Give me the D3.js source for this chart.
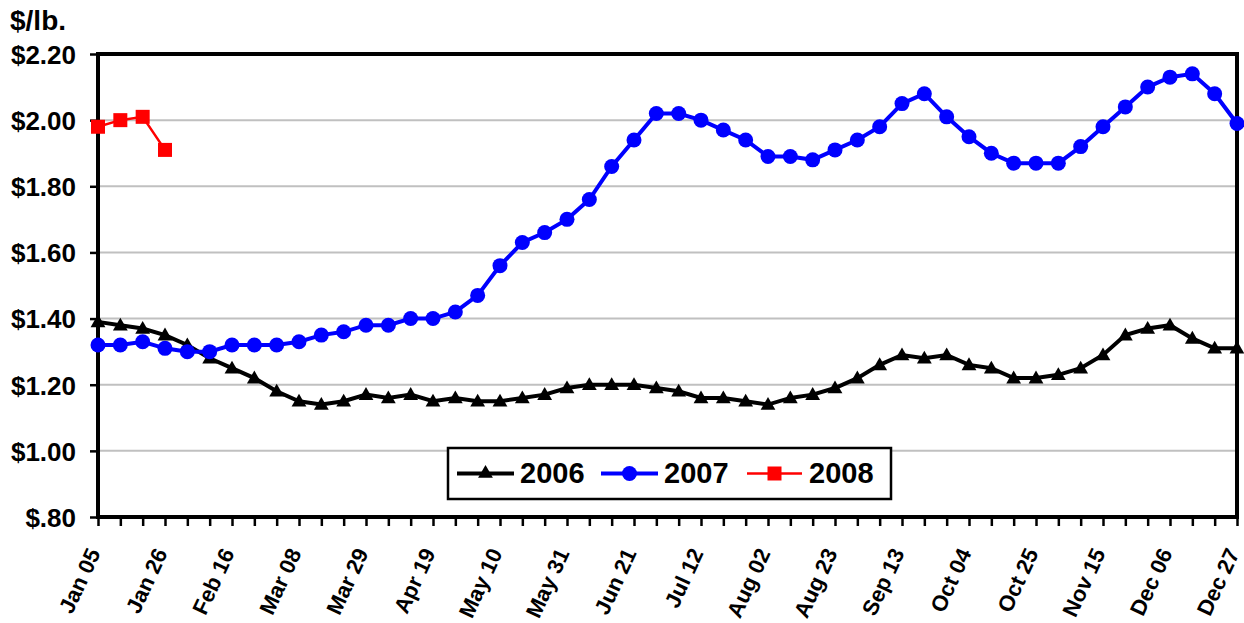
<!DOCTYPE html>
<html><head><meta charset="utf-8">
<script src="https://cdn.jsdelivr.net/npm/d3@7"></script>
<style>body{margin:0;background:#fff;}svg{display:block;font-family:Arial,"Liberation Sans",sans-serif;}</style>
</head><body>
<svg id="c" width="1244" height="623"></svg>
<script>
const weeks = ["Jan 05","Jan 12","Jan 19","Jan 26","Feb 02","Feb 09","Feb 16","Feb 23","Mar 01","Mar 08","Mar 15","Mar 22","Mar 29","Apr 05","Apr 12","Apr 19","Apr 26","May 03","May 10","May 17","May 24","May 31","Jun 07","Jun 14","Jun 21","Jun 28","Jul 05","Jul 12","Jul 19","Jul 26","Aug 02","Aug 09","Aug 16","Aug 23","Aug 30","Sep 06","Sep 13","Sep 20","Sep 27","Oct 04","Oct 11","Oct 18","Oct 25","Nov 01","Nov 08","Nov 15","Nov 22","Nov 29","Dec 06","Dec 13","Dec 20","Dec 27"];
const s2006 = [1.39,1.38,1.37,1.35,1.32,1.28,1.25,1.22,1.18,1.15,1.14,1.15,1.17,1.16,1.17,1.15,1.16,1.15,1.15,1.16,1.17,1.19,1.20,1.20,1.20,1.19,1.18,1.16,1.16,1.15,1.14,1.16,1.17,1.19,1.22,1.26,1.29,1.28,1.29,1.26,1.25,1.22,1.22,1.23,1.25,1.29,1.35,1.37,1.38,1.34,1.31,1.31];
const s2007 = [1.32,1.32,1.33,1.31,1.30,1.30,1.32,1.32,1.32,1.33,1.35,1.36,1.38,1.38,1.40,1.40,1.42,1.47,1.56,1.63,1.66,1.70,1.76,1.86,1.94,2.02,2.02,2.00,1.97,1.94,1.89,1.89,1.88,1.91,1.94,1.98,2.05,2.08,2.01,1.95,1.90,1.87,1.87,1.87,1.92,1.98,2.04,2.10,2.13,2.14,2.08,1.99];
const s2008 = [1.98,2.00,2.01,1.91];
const yTicks = [0.80,1.00,1.20,1.40,1.60,1.80,2.00,2.20];
const yLabels = ["$.80","$1.00","$1.20","$1.40","$1.60","$1.80","$2.00","$2.20"];
const seriesNames = ["2006","2007","2008"];

const svg = d3.select("#c");
const L = 98, R = 1237, T = 54, B = 517;
const x = d3.scalePoint().domain(weeks).range([L, R]);
const y = d3.scaleLinear().domain([0.8, 2.2]).range([B, T]);

// grid
svg.append("g").selectAll("line").data(yTicks.slice(1, -1)).join("line")
  .attr("x1", L).attr("x2", R).attr("y1", d => y(d)).attr("y2", d => y(d))
  .attr("stroke", "#c0c0c0").attr("stroke-width", 2);

// y axis
const yAxis = d3.axisLeft(y).tickValues(yTicks).tickSize(8).tickPadding(14)
  .tickFormat((d, i) => yLabels[i]);
const gy = svg.append("g").attr("transform", `translate(${L},0)`).call(yAxis)
  .attr("font-family", null).attr("font-size", null);
gy.select(".domain").remove();
gy.selectAll(".tick line").attr("stroke", "#000").attr("stroke-width", 2.5);
gy.selectAll(".tick text").attr("font-size", 26).attr("font-weight", "bold").attr("fill", "#000")
  .attr("dy", "0.36em");

// x axis
const xAxis = d3.axisBottom(x).tickSize(9).tickFormat("");
const gx = svg.append("g").attr("transform", `translate(0,${B})`).call(xAxis);
gx.select(".domain").remove();
gx.selectAll(".tick line").attr("stroke", "#000").attr("stroke-width", 2.5);
const labelWeeks = weeks.filter((d, i) => i % 3 === 0);
svg.append("g").selectAll("text").data(labelWeeks).join("text")
  .attr("transform", d => `translate(${x(d) + 3},${B + 36}) rotate(-65)`)
  .attr("text-anchor", "end").attr("font-size", 22).attr("font-weight", "bold")
  .attr("fill", "#000").text(d => d);

// frame
svg.append("rect").attr("x", L).attr("y", T).attr("width", R - L).attr("height", B - T)
  .attr("fill", "none").attr("stroke", "#000").attr("stroke-width", 4);

const line = d3.line().x((d, i) => x(weeks[i])).y(d => y(d));
const tri = d3.symbol().type(d3.symbolTriangle).size(95);

// 2006
svg.append("path").datum(s2006).attr("d", line).attr("fill", "none")
  .attr("stroke", "#000").attr("stroke-width", 4);
svg.append("g").selectAll("path").data(s2006).join("path")
  .attr("d", tri).attr("transform", (d, i) => `translate(${x(weeks[i])},${y(d) + 1})`).attr("fill", "#000");

// 2007
svg.append("path").datum(s2007).attr("d", line).attr("fill", "none")
  .attr("stroke", "#0000ff").attr("stroke-width", 4);
svg.append("g").selectAll("circle").data(s2007).join("circle")
  .attr("cx", (d, i) => x(weeks[i])).attr("cy", d => y(d)).attr("r", 7.5).attr("fill", "#0000ff");

// 2008
svg.append("path").datum(s2008).attr("d", line).attr("fill", "none")
  .attr("stroke", "#ff0000").attr("stroke-width", 2.5);
svg.append("g").selectAll("rect").data(s2008).join("rect")
  .attr("x", (d, i) => x(weeks[i]) - 7).attr("y", d => y(d) - 7)
  .attr("width", 14).attr("height", 14).attr("fill", "#ff0000");

// title
svg.append("text").attr("x", 10).attr("y", 30).attr("font-size", 28).attr("font-weight", "bold").text("$/lb.");

// legend
const lg = svg.append("g");
lg.append("rect").attr("x", 448).attr("y", 448).attr("width", 443).attr("height", 51)
  .attr("fill", "#fff").attr("stroke", "#000").attr("stroke-width", 2.5);
const ly = 473.5;
const items = [
  {x0: 457, x1: 514, tx: 520, color: "#000", w: 4, m: "tri"},
  {x0: 601, x1: 658, tx: 664, color: "#0000ff", w: 4, m: "circle"},
  {x0: 747, x1: 802, tx: 809, color: "#ff0000", w: 2.5, m: "rect"}
];
items.forEach((it, i) => {
  lg.append("line").attr("x1", it.x0).attr("x2", it.x1).attr("y1", ly).attr("y2", ly)
    .attr("stroke", it.color).attr("stroke-width", it.w);
  const cx = (it.x0 + it.x1) / 2;
  if (it.m === "tri") lg.append("path").attr("d", tri).attr("transform", `translate(${cx},${ly})`).attr("fill", it.color);
  if (it.m === "circle") lg.append("circle").attr("cx", cx).attr("cy", ly).attr("r", 7.5).attr("fill", it.color);
  if (it.m === "rect") lg.append("rect").attr("x", cx - 7).attr("y", ly - 7).attr("width", 14).attr("height", 14).attr("fill", it.color);
  lg.append("text").attr("x", it.tx).attr("y", 483).attr("font-size", 29).attr("font-weight", "bold")
    .text(seriesNames[i]);
});
</script>
</body></html>
